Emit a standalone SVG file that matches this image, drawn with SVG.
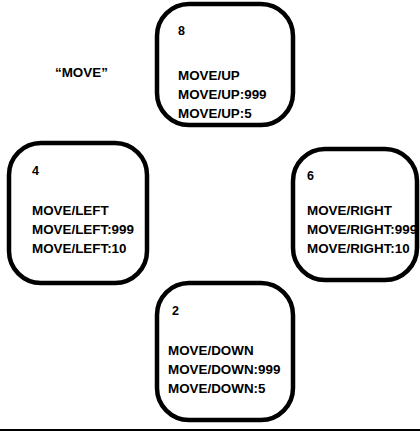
<svg xmlns="http://www.w3.org/2000/svg" width="420" height="440" viewBox="0 0 420 440">
<style>
.box{fill:#fff;stroke:#000;stroke-width:4.5}
text{font-family:"Liberation Sans",Arial,sans-serif;font-weight:bold;font-size:13.4px;fill:#000}
.num{font-size:12.5px}
</style>
<rect width="420" height="440" fill="#fff"/>
<text x="55" y="77">“MOVE”</text>
<g id="node-up">
<rect class="box" x="157" y="4" width="136" height="121" rx="32"/>
<text class="num" x="178" y="35">8</text>
<text x="178" y="80">MOVE/UP</text>
<text x="178" y="99">MOVE/UP:999</text>
<text x="178" y="118">MOVE/UP:5</text>
</g>
<g id="node-left">
<rect class="box" x="9" y="143" width="138" height="140" rx="32"/>
<text class="num" x="32" y="175">4</text>
<text x="32" y="215">MOVE/LEFT</text>
<text x="32" y="234">MOVE/LEFT:999</text>
<text x="32" y="253">MOVE/LEFT:10</text>
</g>
<g id="node-right">
<rect class="box" x="293" y="149" width="124" height="131" rx="32"/>
<text class="num" x="307" y="180">6</text>
<text x="307" y="215">MOVE/RIGHT</text>
<text x="307" y="234">MOVE/RIGHT:999</text>
<text x="307" y="253">MOVE/RIGHT:10</text>
</g>
<g id="node-down">
<rect class="box" x="157" y="283" width="136" height="137" rx="32"/>
<text class="num" x="172" y="315">2</text>
<text x="168" y="355">MOVE/DOWN</text>
<text x="168" y="374">MOVE/DOWN:999</text>
<text x="168" y="393">MOVE/DOWN:5</text>
</g>
<g id="connectors"></g>
<line x1="0" y1="430" x2="420" y2="430" stroke="#000" stroke-width="2"/>
</svg>
